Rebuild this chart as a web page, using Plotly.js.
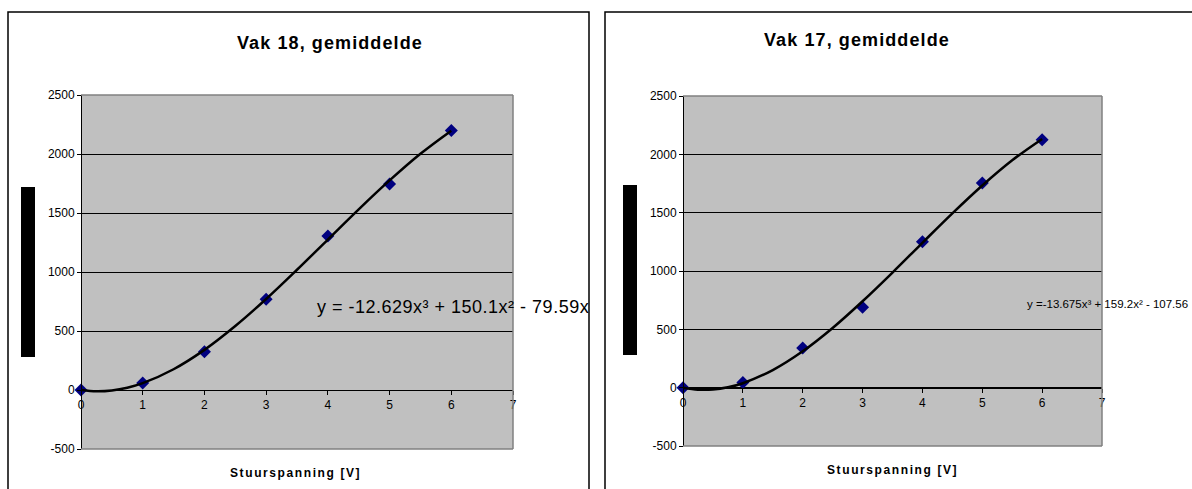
<!DOCTYPE html>
<html>
<head>
<meta charset="utf-8">
<script src="https://cdn.plot.ly/plotly-3.0.1.min.js"></script>
<style>html,body{margin:0;padding:0;background:#fff;}#chart{width:1192px;height:489px;}</style>
</head>
<body>
<div id="chart"></div>
<script>
// ---- data ----
const voltage = [0, 1, 2, 3, 4, 5, 6];
const vak18 = [0, 60, 325, 770, 1305, 1745, 2200];
const vak17 = [0, 45, 340, 690, 1250, 1755, 2125];
const trendX = [0, 0.25, 0.5, 0.75, 1, 1.5, 2, 2.5, 3, 3.5, 4, 4.5, 5, 5.5, 6];
const trend18 = [0, -11, -4, 19, 58, 176, 340, 542, 771, 1019, 1275, 1531, 1776, 2002, 2198];
const trend17 = [0, -17, -16, 3, 38, 151, 312, 512, 741, 987, 1242, 1494, 1733, 1949, 2132];
const xTicks = [0, 1, 2, 3, 4, 5, 6, 7];
const yTicks = [-500, 0, 500, 1000, 1500, 2000, 2500];
const titles = ["Vak 18, gemiddelde", "Vak 17, gemiddelde"];
const xTitle = "Stuurspanning [V]";
const eq18 = "y = -12.629x³ + 150.1x² - 79.59x";
const eq17 = "y =-13.675x³ + 159.2x² - 107.56";

// ---- layout helpers ----
const W = 1192, H = 489;
const px = x => x / W;
const py = y => 1 - y / H;
const FONT = "Liberation Sans, Arial, sans-serif";
const xRange = [0, 7], yRange = [-500, 2500];

const dom1 = {x: [px(81), px(513)], y: [py(449), py(95)]};
const dom2 = {x: [px(683), px(1102)], y: [py(446), py(96)]};
function zeroPos(d) {
  return d.y[0] + (0 - yRange[0]) / (yRange[1] - yRange[0]) * (d.y[1] - d.y[0]);
}

function xAxis(d) {
  return {
    domain: d.x, range: xRange, anchor: 'free', position: zeroPos(d),
    showline: true, linecolor: '#000', linewidth: 1,
    ticks: 'outside', ticklen: 4, tickcolor: '#000',
    tickmode: 'array', tickvals: xTicks, ticktext: xTicks.map(String),
    showgrid: false, zeroline: false,
    tickfont: {family: FONT, size: 12, color: '#000'},
    fixedrange: true
  };
}
function yAxis(d) {
  return {
    domain: d.y, range: yRange, anchor: 'free', position: d.x[0],
    showline: true, linecolor: '#000', linewidth: 1,
    ticks: 'outside', ticklen: 4, tickcolor: '#000',
    tickmode: 'array', tickvals: yTicks, ticktext: yTicks.map(String),
    showgrid: true, gridcolor: '#000', gridwidth: 1, zeroline: false,
    tickfont: {family: FONT, size: 12, color: '#000'},
    fixedrange: true
  };
}

const traces = [
  {x: voltage, y: vak18, xaxis: 'x', yaxis: 'y', type: 'scatter', mode: 'markers',
   marker: {symbol: 'diamond', size: 10, color: '#000080'}, cliponaxis: false, showlegend: false},
  {x: trendX, y: trend18, xaxis: 'x', yaxis: 'y', type: 'scatter', mode: 'lines',
   line: {color: '#000', width: 2.5, shape: 'spline'}, cliponaxis: false, showlegend: false},
  {x: voltage, y: vak17, xaxis: 'x2', yaxis: 'y2', type: 'scatter', mode: 'markers',
   marker: {symbol: 'diamond', size: 10, color: '#000080'}, cliponaxis: false, showlegend: false},
  {x: trendX, y: trend17, xaxis: 'x2', yaxis: 'y2', type: 'scatter', mode: 'lines',
   line: {color: '#000', width: 2.5, shape: 'spline'}, cliponaxis: false, showlegend: false}
];

function border(d) {
  const g = {type: 'line', xref: 'paper', yref: 'paper', line: {color: '#808080', width: 1.5}, layer: 'above'};
  return [
    Object.assign({}, g, {x0: d.x[0], x1: d.x[1], y0: d.y[1], y1: d.y[1]}),
    Object.assign({}, g, {x0: d.x[1], x1: d.x[1], y0: d.y[0], y1: d.y[1]}),
    Object.assign({}, g, {x0: d.x[0], x1: d.x[1], y0: d.y[0], y1: d.y[0]})
  ];
}

const shapes = [
  // chart frames
  {type: 'rect', xref: 'paper', yref: 'paper', x0: px(8), x1: px(589), y0: -0.2, y1: py(12),
   line: {color: '#000', width: 1.5}, fillcolor: 'rgba(0,0,0,0)', layer: 'below'},
  {type: 'rect', xref: 'paper', yref: 'paper', x0: px(605), x1: 1.2, y0: -0.2, y1: py(12),
   line: {color: '#000', width: 1.5}, fillcolor: 'rgba(0,0,0,0)', layer: 'below'},
  // redacted y-axis titles
  {type: 'rect', xref: 'paper', yref: 'paper', x0: px(21), x1: px(35), y0: py(357), y1: py(187),
   line: {width: 0}, fillcolor: '#000'},
  {type: 'rect', xref: 'paper', yref: 'paper', x0: px(623), x1: px(637), y0: py(355), y1: py(185),
   line: {width: 0}, fillcolor: '#000'}
].concat(border(dom1), border(dom2));

const sp = (t, s) => '<span style="letter-spacing:' + s + 'px">' + t + '</span>';

const annotations = [
  {text: '<b>' + sp(titles[0], 1.1) + '</b>', xref: 'paper', yref: 'paper', x: px(330), y: py(43),
   xanchor: 'center', yanchor: 'middle', showarrow: false, font: {family: FONT, size: 18, color: '#000'}},
  {text: '<b>' + sp(titles[1], 1.1) + '</b>', xref: 'paper', yref: 'paper', x: px(857), y: py(40),
   xanchor: 'center', yanchor: 'middle', showarrow: false, font: {family: FONT, size: 18, color: '#000'}},
  {text: '<b>' + sp(xTitle, 1.6) + '</b>', xref: 'paper', yref: 'paper', x: px(295), y: py(473),
   xanchor: 'center', yanchor: 'middle', showarrow: false, font: {family: FONT, size: 12, color: '#000'}},
  {text: '<b>' + sp(xTitle, 1.6) + '</b>', xref: 'paper', yref: 'paper', x: px(892), y: py(470),
   xanchor: 'center', yanchor: 'middle', showarrow: false, font: {family: FONT, size: 12, color: '#000'}},
  {text: sp(eq18, 0.5), xref: 'paper', yref: 'paper', x: px(315), y: py(307),
   xanchor: 'left', yanchor: 'middle', showarrow: false, font: {family: FONT, size: 18, color: '#000'}},
  {text: eq17, xref: 'paper', yref: 'paper', x: px(1025), y: py(304),
   xanchor: 'left', yanchor: 'middle', showarrow: false, font: {family: FONT, size: 11.5, color: '#000'}}
];

const layout = {
  width: W, height: H,
  margin: {l: 0, r: 0, t: 0, b: 0, pad: 0},
  paper_bgcolor: '#fff', plot_bgcolor: '#C0C0C0',
  showlegend: false,
  xaxis: xAxis(dom1), yaxis: yAxis(dom1),
  xaxis2: xAxis(dom2), yaxis2: yAxis(dom2),
  shapes: shapes, annotations: annotations,
  font: {family: FONT, color: '#000'}
};

Plotly.newPlot('chart', traces, layout, {staticPlot: true, displayModeBar: false});
</script>
</body>
</html>
